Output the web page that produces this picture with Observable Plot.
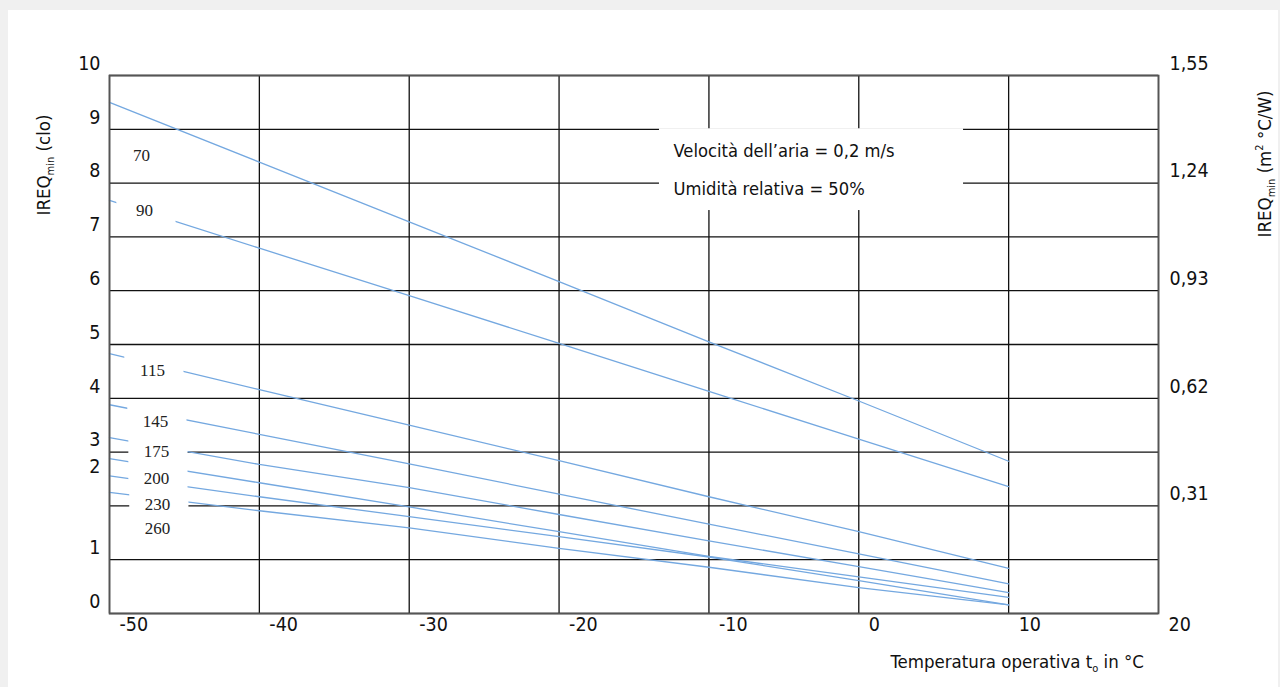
<!DOCTYPE html>
<html>
<head>
<meta charset="utf-8">
<script src="https://cdn.jsdelivr.net/npm/d3@7"></script>
<script src="https://cdn.jsdelivr.net/npm/@observablehq/plot@0.6"></script>
<style>
  html, body { margin: 0; padding: 0; background: #f0f0f0; width: 1280px; height: 687px; overflow: hidden; }
  #panel { position: absolute; left: 8px; top: 10px; width: 1270px; height: 677px; background: #ffffff; }
  #chart { position: absolute; left: 0; top: 0; }
</style>
</head>
<body>
<div id="panel"></div>
<div id="chart"></div>
<script>
// ---- data ----
const temperatures = [-50, -40, -30, -20, -10, 0, 10];           // °C
const seriesNames  = ["70", "90", "115", "145", "175", "200", "230", "260"]; // metabolic rate W/m²
const ireq70  = [9.50, 8.39, 7.28, 6.17, 5.05, 3.95, 2.83];
const ireq90  = [7.68, 6.79, 5.91, 5.02, 4.13, 3.24, 2.36];
const ireq115 = [4.83, 4.16, 3.50, 2.84, 2.17, 1.52, 0.84];
const ireq145 = [3.88, 3.33, 2.78, 2.22, 1.66, 1.11, 0.55];
const ireq175 = [3.27, 2.77, 2.34, 1.84, 1.35, 0.87, 0.39];
const ireq200 = [2.88, 2.43, 1.98, 1.52, 1.06, 0.68, 0.30];
const ireq230 = [2.56, 2.17, 1.80, 1.43, 1.05, 0.61, 0.16];
const ireq260 = [2.25, 1.91, 1.59, 1.21, 0.86, 0.48, 0.16];

// curve label anchor points (°C, clo)
const labelTemps = [-47.86, -47.66, -47.13, -46.93, -46.86, -46.86, -46.80, -46.80];
const labelClo   = [8.51, 7.49, 4.52, 3.57, 3.01, 2.50, 2.03, 1.57];

// axes
const xTickValues = [-50, -40, -30, -20, -10, 0, 10, 20];
const yGridValues = [0, 1, 2, 3, 4, 5, 6, 7, 8, 9, 10];
const leftTickLabels    = ["10", "9", "8", "7", "6", "5", "4", "3", "2", "1", "0"];
const leftTickPositions = [10, 9, 8, 7, 6, 5, 4, 3, 2.5, 1, 0];
const rightTickLabels    = ["1,55", "1,24", "0,93", "0,62", "0,31"];
const rightTickPositions = [10, 8, 6, 4, 2];

// annotation
const noteLines = ["Velocità dell’aria = 0,2 m/s", "Umidità relativa = 50%"];
const noteClo   = [8.59, 7.88];
const noteTemp  = -12.36;
const noteBox   = {x1: -13.30, x2: 6.99, y1: 7.49, y2: 9.01};

// ---- build tables for the library ----
const curves = [ireq70, ireq90, ireq115, ireq145, ireq175, ireq200, ireq230, ireq260];
const curveData = seriesNames.flatMap((name, i) =>
  temperatures.map((t, j) => ({series: name, t, clo: curves[i][j]})));
const labelData = seriesNames.map((name, i) => ({name, x: labelTemps[i], y: labelClo[i]}));

const SANS = "'DejaVu Sans Condensed', 'DejaVu Sans', sans-serif";
const SERIF = "'Liberation Serif', 'DejaVu Serif', serif";

const chart = Plot.plot({
  width: 1280,
  height: 687,
  marginLeft: 109,
  marginRight: 122,
  marginTop: 75,
  marginBottom: 74,
  style: {background: "transparent", fontFamily: SANS, overflow: "visible"},
  x: {domain: [-50, 20], axis: null},
  y: {domain: [0, 10], axis: null},
  marks: [
    Plot.ruleY(yGridValues, {stroke: "#111", strokeWidth: 1.3}),
    Plot.ruleX(xTickValues, {stroke: "#111", strokeWidth: 1.3}),
    Plot.line(curveData, {x: "t", y: "clo", z: "series", stroke: "#74a8e0", strokeWidth: 1.3}),
    // white background of the annotation
    Plot.rect([noteBox], {x1: "x1", x2: "x2", y1: "y1", y2: "y2", fill: "white"}),
    // white backgrounds behind curve labels
    Plot.rect(labelData, {x1: d => d.x - 1.85, x2: d => d.x + 2.1, y1: d => d.y - 0.26, y2: d => d.y + 0.26, fill: "white"}),
    Plot.frame({stroke: "#555", strokeWidth: 1.7}),
    Plot.text(labelData, {x: "x", y: "y", text: "name", fontFamily: SERIF, fontSize: 17, fill: "#222"}),
    Plot.text(noteLines, {x: noteTemp, y: (d, i) => noteClo[i], text: d => d, textAnchor: "start", fontSize: 18.2, fill: "#111"}),
    Plot.text(xTickValues, {x: d => d, text: d => String(d), frameAnchor: "bottom", textAnchor: "start", dx: 10, dy: 17, fontSize: 19.5, fill: "#111"}),
    Plot.text(leftTickPositions, {y: d => d, text: (d, i) => leftTickLabels[i], frameAnchor: "left", textAnchor: "end", dx: -9, dy: -12, fontSize: 19.5, fill: "#111"}),
    Plot.text(rightTickPositions, {y: d => d, text: (d, i) => rightTickLabels[i], frameAnchor: "right", textAnchor: "start", dx: 11, dy: -12, fontSize: 19.5, fill: "#111"})
  ]
});

document.getElementById("chart").appendChild(chart);

// ---- axis titles with sub/superscripts ----
const svg = d3.select(chart);
function title(x, y, rotate, anchor, parts) {
  const t = svg.append("text")
    .attr("transform", `translate(${x},${y}) rotate(${rotate})`)
    .attr("text-anchor", anchor)
    .attr("font-family", SANS)
    .attr("font-size", 18.5)
    .attr("fill", "#111");
  for (const p of parts) {
    const s = t.append("tspan").text(p.text);
    if (p.sub) s.attr("font-size", 11).attr("dy", 4);
    else if (p.sup) s.attr("font-size", 11).attr("dy", -8);
    else if (p.back) s.attr("dy", p.back);
  }
}
const right = 1280 - 122, bottom = 687 - 74;
title(50, 165, -90, "middle", [{text: "IREQ"}, {text: "min", sub: true}, {text: " (clo)", back: -4}]);
title(1271, 164, -90, "middle", [{text: "IREQ"}, {text: "min", sub: true}, {text: " (m", back: -4}, {text: "2", sup: true}, {text: " °C/W)", back: 8}]);
title(right - 14, bottom + 55, 0, "end", [{text: "Temperatura operativa t"}, {text: "o", sub: true}, {text: " in °C", back: -4}]);
</script>
</body>
</html>
